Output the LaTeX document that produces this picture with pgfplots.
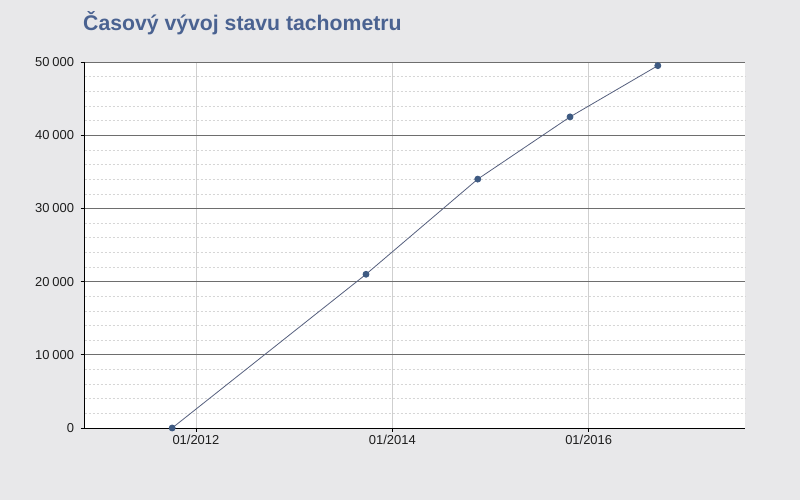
\documentclass[border=0pt]{standalone}
\usepackage{pgfplots}
\pgfplotsset{compat=1.18}
\usepackage{fontspec}
\setmainfont{Liberation Sans}

\definecolor{pagebg}{HTML}{E8E8EA}
\definecolor{titleblue}{HTML}{4A6291}
\definecolor{seriesline}{HTML}{56607E}
\definecolor{seriesmark}{HTML}{3E5A82}
\definecolor{majorgrid}{HTML}{6E6E6E}
\definecolor{minorgrid}{HTML}{D6D6D6}
\definecolor{xgrid}{HTML}{CFCFCF}
\definecolor{labeltext}{HTML}{1E1E1E}

% odometer readings: date as decimal year, kilometres
\pgfplotstableread{
date     km
2011.758 0
2013.732 21000
2014.870 34000
2015.810 42500
2016.704 49500
}\odometer

\begin{document}
\begin{tikzpicture}[x=1bp,y=1bp]
  \fill[pagebg] (0,0) rectangle (800,500);
  \node[anchor=west, text=titleblue, font=\fontsize{21.3}{25}\selectfont\bfseries,
        inner sep=0pt] at (83,477) {Časový vývoj stavu tachometru};
  \begin{axis}[
    at={(84.5bp,72bp)}, anchor=south west,
    scale only axis, width=660.5bp, height=366bp,
    axis background/.style={fill=white},
    xmin=2010.865, xmax=2017.592,
    ymin=0, ymax=50000,
    axis x line*=bottom, axis y line*=left,
    axis line style={black, line width=0.9pt, -},
    xtick={2012,2014,2016},
    xticklabels={01/2012,01/2014,01/2016},
    ytick={0,10000,20000,30000,40000,50000},
    minor y tick num=4,
    scaled y ticks=false,
    /pgf/number format/.cd, 1000 sep={\kern0.22em}, assume math mode=true, /pgfplots/.cd,
    tick label style={font=\fontsize{13}{15}\selectfont, text=labeltext},
    yticklabel style={xshift=-3bp},
    tick align=outside,
    major tick length=4bp, minor tick length=0pt,
    tick style={black, line width=0.6pt},
    xmajorgrids, ymajorgrids, yminorgrids,
    x grid style={xgrid, line width=0.6pt},
    y grid style={majorgrid, line width=0.8pt},
    minor y grid style={minorgrid, dash pattern=on 2.5bp off 1.5bp, line width=0.5pt},
    clip=false,
  ]
    \addplot[seriesline, line width=0.8pt, mark=*,
             mark options={fill=seriesmark, draw=seriesmark}, mark size=3bp]
      table[x=date, y=km] {\odometer};
  \end{axis}
\end{tikzpicture}
\end{document}
